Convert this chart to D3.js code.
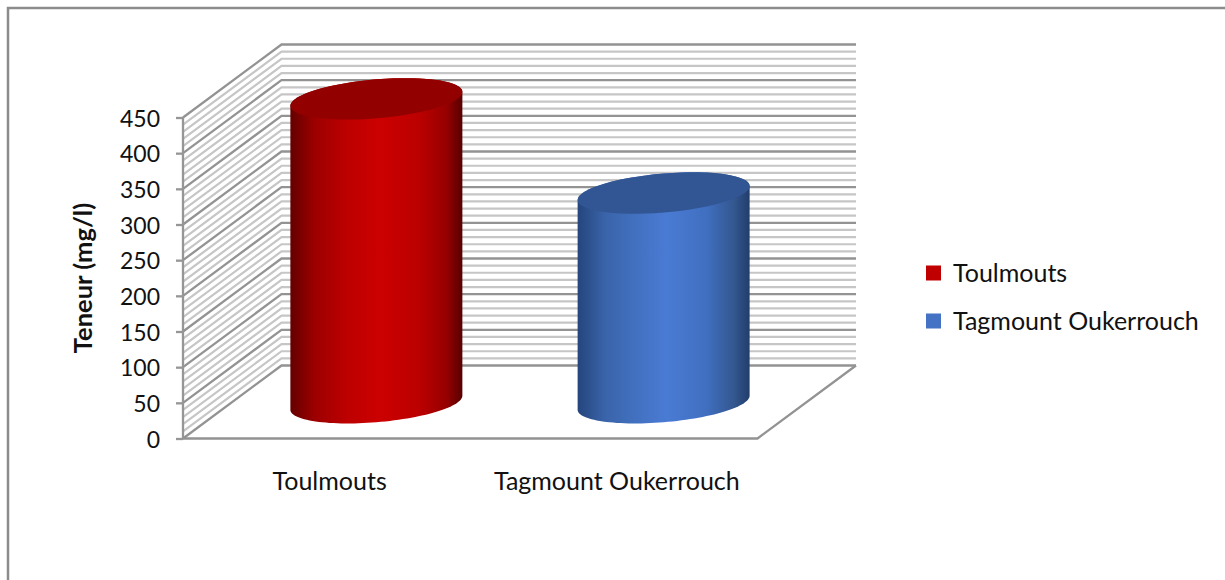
<!DOCTYPE html>
<html>
<head>
<meta charset="utf-8">
<script src="https://cdn.jsdelivr.net/npm/d3@7"></script>
<style>
    html, body { margin: 0; padding: 0; background: #fff; }
    svg { display: block; }
    text { font-family: Lato, sans-serif; fill: #111; }
</style>
</head>
<body>
<svg id="chart" width="1225" height="580"></svg>
<script>
// Chart values
const categories = ["Toulmouts", "Tagmount Oukerrouch"];
const values = [426, 294];
const yTicks = [0, 50, 100, 150, 200, 250, 300, 350, 400, 450];
const minorTicks = d3.range(0, 451, 10);
const bodyStops = [
    [["0%", "#640000"], ["14%", "#9c0000"], ["33%", "#bd0000"], ["52%", "#cc0000"], ["75%", "#bb0000"], ["91%", "#960000"], ["100%", "#570000"]],
    [["0%", "#25457c"], ["16%", "#3a64aa"], ["33%", "#4270bf"], ["52%", "#4a7bd4"], ["75%", "#406fc0"], ["91%", "#33578f"], ["100%", "#223d6b"]]
];
const topColors = ["#920000", "#325693"];
const legendColors = ["#c00000", "#4472c4"];

const svg = d3.select("#chart");

// Oblique projection of the 3D box
const depthX = 98.5;
const depthY = 73;
const x = d3.scaleBand().domain(categories).range([183, 757.5]);
const y = d3.scaleLinear().domain([0, 450]).range([438.5, 117.5]);

// Outer chart border, open at the bottom
svg.append("path")
    .attr("d", "M8,580 L8,8 L1225,8")
    .attr("fill", "none")
    .attr("stroke", "#8c8c8c")
    .attr("stroke-width", 2.5);

// Walls: side wall hatching and back wall gridlines
const grid = svg.append("g").attr("fill", "none");
minorTicks.forEach(v => {
    const major = v % 50 === 0;
    grid.append("path")
        .attr("d", d3.line()([
            [x.range()[0], y(v)],
            [x.range()[0] + depthX, y(v) - depthY],
            [x.range()[1] + depthX, y(v) - depthY]
        ]))
        .attr("stroke", major ? "#939393" : "#c6c6c6")
        .attr("stroke-width", major ? 2.3 : 2.2);
});

// Floor front and right edges
svg.append("path")
    .attr("d", d3.line()([
        [x.range()[0], y(0)],
        [x.range()[1], y(0)],
        [x.range()[1] + depthX, y(0) - depthY]
    ]))
    .attr("fill", "none")
    .attr("stroke", "#939393")
    .attr("stroke-width", 2.3);

// Value axis
const yAxis = svg.append("g")
    .attr("transform", `translate(${x.range()[0]},0)`)
    .call(d3.axisLeft(y).tickValues(yTicks).tickSize(7).tickPadding(16));
yAxis.selectAll("path, line").attr("stroke", "#969696").attr("stroke-width", 2.3);
yAxis.select(".domain").attr("d", `M0,${y(0)}V${y(450)}`);
yAxis.selectAll("text")
    .attr("font-size", 23)
    .attr("font-family", "Lato, sans-serif")
    .attr("fill", "#111")
    .attr("dy", "0.38em");

svg.append("text")
    .attr("transform", "translate(92,278) rotate(-90)")
    .attr("text-anchor", "middle")
    .attr("font-size", 25.5)
    .attr("font-weight", "bold")
    .text("Teneur (mg/l)");

// Cylinders
const defs = svg.append("defs");
const halfWidth = 86;
const tilt = 7;
const bulge = 19.5;

function rim(cx, cy, from, to) {
    return d3.range(0, 61).map(i => {
        const t = from + (to - from) * i / 60;
        return [cx + halfWidth * Math.cos(t), cy - tilt * Math.cos(t) + bulge * Math.sin(t)];
    });
}

categories.forEach((name, i) => {
    const gradient = defs.append("linearGradient")
        .attr("id", `body-${i}`)
        .attr("x1", "0%").attr("x2", "100%")
        .attr("y1", "0%").attr("y2", "0%");
    bodyStops[i].forEach(s => {
        gradient.append("stop").attr("offset", s[0]).attr("stop-color", s[1]);
    });

    const cx = x(name) + x.bandwidth() / 2 + depthX * 0.505;
    const base = y(0) - depthY * 0.49;
    const top = base - (y(0) - y(values[i]));

    // Side surface follows the back of the top rim so it sits fully under the cap
    const outline = [
        ...rim(cx, top, Math.PI, Math.PI * 2),
        ...rim(cx, base, 0, Math.PI)
    ];
    svg.append("path")
        .attr("d", d3.line()(outline) + "Z")
        .attr("fill", `url(#body-${i})`);

    svg.append("path")
        .attr("d", d3.line()(rim(cx, top, 0, Math.PI * 2)) + "Z")
        .attr("fill", topColors[i]);

    svg.append("text")
        .attr("x", x(name) + x.bandwidth() / 2 + 3)
        .attr("y", 490)
        .attr("text-anchor", "middle")
        .attr("font-size", 25)
        .text(name);
});

// Legend
const legendY = d3.scalePoint().domain(categories).range([273, 321]);
categories.forEach((name, i) => {
    svg.append("rect")
        .attr("x", 926).attr("y", legendY(name) - 7.5)
        .attr("width", 15).attr("height", 15)
        .attr("fill", legendColors[i]);
    svg.append("text")
        .attr("x", 953).attr("y", legendY(name) + 8.5)
        .attr("font-size", 25)
        .text(name);
});
</script>
</body>
</html>
